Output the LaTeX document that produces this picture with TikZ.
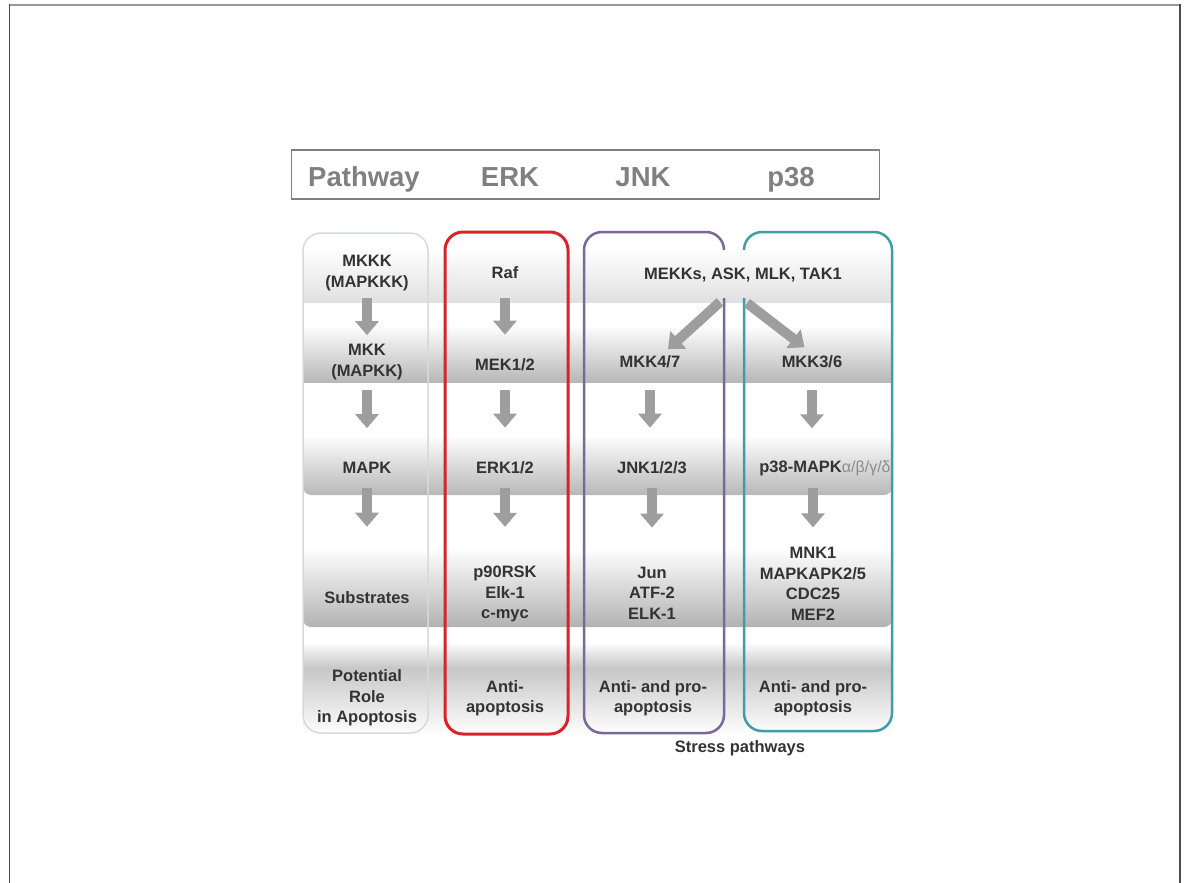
\documentclass[tikz,border=0pt]{standalone}
\usepackage{fontspec}
\setmainfont{Liberation Sans}
\usetikzlibrary{arrows.meta, positioning}

\definecolor{erkred}{HTML}{D8232A}
\definecolor{jnkpurple}{HTML}{7A6898}
\definecolor{pteal}{HTML}{3E9EA3}
\definecolor{headgray}{HTML}{808080}
\definecolor{txtgray}{HTML}{333333}
\definecolor{paleline}{HTML}{D3DAE0}

\begin{document}
\begin{tikzpicture}[
  x=1pt, y=-1pt,
  lbl/.style={font=\fontsize{16.5}{20.5}\selectfont\bfseries, text=txtgray, align=center, inner sep=1pt},
  head/.style={font=\fontsize{27.5}{30}\selectfont\bfseries, text=headgray, inner sep=0pt, anchor=base},
  band/.style={top color=white, bottom color=black!28},
  lane/.style={line width=2.5pt, rounded corners=18pt},
  blockarr/.style={-{Triangle[width=23pt,length=14pt]}, line width=10pt, draw=black!38}
]
\useasboundingbox (0,0) rectangle (1184,883);
\draw[black!40, line width=2.5pt] (9,5) -- (1180,5);
\draw[black!70, line width=0.8pt] (9,4) -- (9,883);
\draw[black!70, line width=1.2pt] (1180,4) -- (1180,883);

% header
\node[draw=headgray, line width=1.8pt, minimum width=588pt, minimum height=49pt, inner sep=0pt] (header) at (585.5,174.5) {};
\node[head] (hpath) at (364,186) {Pathway};
\node[head] (herk) at (510,186) {ERK};
\node[head] (hjnk) at (643,186) {JNK};
\node[head] (hp38) at (791,186) {p38};

% row bands
\shade[band, bottom color=black!12] (303,248) rectangle (892,302);
\shade[band] (303,325) rectangle (892,382);
\shade[band, rounded corners=8pt] (303,435) rectangle (892,495);
\shade[band, bottom color=black!30, rounded corners=8pt] (303,548) rectangle (892,627);
\shade[band, bottom color=black!22] (303,642) rectangle (892,668);
\shade[band, top color=black!22, bottom color=white] (303,668) rectangle (892,735);

% lanes
\draw[paleline, line width=1.5pt, rounded corners=18pt] (303,233) rectangle (428,733);
\draw[lane, erkred, line width=3pt] (445,232) rectangle (568,734);
\draw[lane, jnkpurple] (724,250) -- (724,232) -- (584,232) -- (584,733) -- (724,733) -- (724,298);
\draw[lane, pteal] (744,250) -- (744,232) -- (892,232) -- (892,731) -- (744,731) -- (744,298);

% pathway column
\node[lbl] (pmkkk) at (367,273) {MKKK\\(MAPKKK)};
\node[lbl] (pmkk) at (367,362) {MKK\\(MAPKK)};
\node[lbl] (pmapk) at (367,468) {MAPK};
\node[lbl] (psub) at (367,598) {Substrates};
\node[lbl] (prole) at (367,698) {Potential\\Role\\in Apoptosis};

% ERK
\node[lbl] (raf) at (505,273) {Raf};
\node[lbl] (mek) at (505,365) {MEK1/2};
\node[lbl] (erk) at (505,468) {ERK1/2};
\node[lbl] (esub) at (505,594) {p90RSK\\Elk-1\\c-myc};
\node[lbl] (erole) at (505,698) {Anti-\\apoptosis};

% JNK and p38
\node[lbl] (mekk) at (743,275) {MEKKs, ASK, MLK, TAK1};
\coordinate (forkL) at (720,302);
\coordinate (forkR) at (747,303);
\node[lbl] (mkk47) at (650,362) {MKK4/7};
\node[lbl] (jnk) at (652,468) {JNK1/2/3};
\node[lbl] (jsub) at (652,593) {Jun\\ATF-2\\ELK-1};
\node[lbl] (jrole) at (653,698) {Anti- and pro-\\apoptosis};
\node[lbl] (mkk36) at (812,362) {MKK3/6};
\node[lbl] (p38) at (825,468) {p38-MAPK{\mdseries\fontsize{16}{16}\selectfont\color{black!45}α/β/γ/δ}};
\node[lbl] (psub38) at (813,584) {MNK1\\MAPKAPK2/5\\CDC25\\MEF2};
\node[lbl] (prole38) at (813,698) {Anti- and pro-\\apoptosis};
\node[lbl] (stress) at (740,748) {Stress pathways};

% arrows
\draw[blockarr, shorten <=6pt, shorten >=8pt] (pmkkk) -- (pmkk);
\draw[blockarr, shorten <=9pt, shorten >=33pt] (pmkk) -- (pmapk);
\draw[blockarr, shorten <=13pt, shorten >=64pt] (pmapk) -- (psub);
\draw[blockarr, shorten <=18pt, shorten >=23pt] (raf) -- (mek);
\draw[blockarr, shorten <=18pt, shorten >=33pt] (mek) -- (erk);
\draw[blockarr, shorten <=13pt, shorten >=38pt] (erk) -- (esub);
\draw[blockarr, shorten >=8pt] (forkL) -- ([xshift=12pt]mkk47.north);
\draw[blockarr, shorten >=12pt] (forkR) -- ([xshift=2pt]mkk36.north);
\draw[blockarr, shorten <=21pt, shorten >=33pt] (mkk47.south) -- (mkk47.south |- jnk.north);
\draw[blockarr, shorten <=13pt, shorten >=38pt] (jnk) -- (jsub);
\draw[blockarr, shorten <=21pt, shorten >=31pt] (mkk36.south) -- (mkk36.south |- p38.north);
\draw[blockarr, shorten <=11pt, shorten >=19pt] ([xshift=-12pt]p38.south) -- (psub38.north);
\end{tikzpicture}
\end{document}
